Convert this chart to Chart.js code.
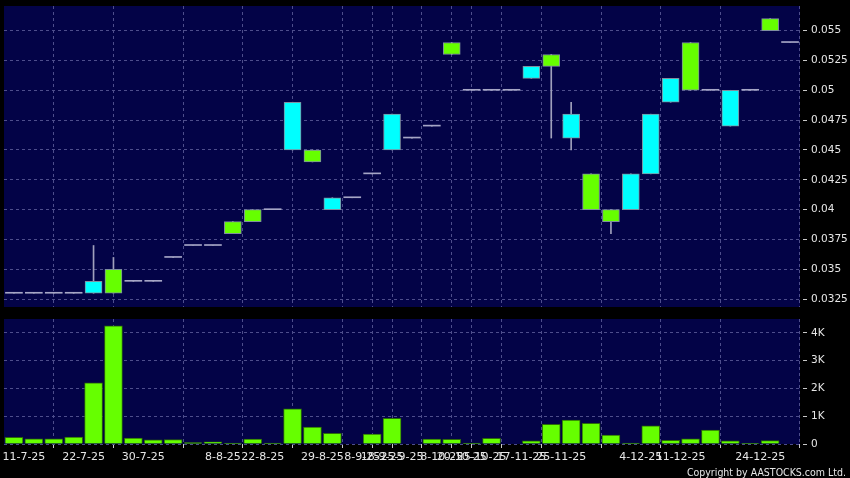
<!DOCTYPE html>
<html><head><meta charset="utf-8">
<script src="https://cdn.jsdelivr.net/npm/chart.js@4/dist/chart.umd.min.js"></script>
<style>
html,body{margin:0;padding:0;background:#000;width:850px;height:478px;overflow:hidden;}
#wrap{position:relative;width:850px;height:478px;}
canvas{position:absolute;left:0;}
#c1{top:0}
#c2{top:312px}
#copy{position:absolute;right:4px;top:466px;line-height:12px;color:#e6e6e6;font-size:10.5px;font-family:"DejaVu Sans Condensed","DejaVu Sans",sans-serif;white-space:nowrap;}
</style></head><body>
<div id="wrap">
<canvas id="c1" width="850" height="312"></canvas>
<canvas id="c2" width="850" height="166"></canvas>
<div id="copy">Copyright by AASTOCKS.com Ltd.</div>
</div>
<script>
// ---- data ----
const dates = ["10-7-25","11-7-25","15-7-25","18-7-25","22-7-25","23-7-25","25-7-25","30-7-25","31-7-25","4-8-25",
  "6-8-25","8-8-25","15-8-25","22-8-25","26-8-25","27-8-25","29-8-25","3-9-25","8-9-25","18-9-25",
  "25-9-25","29-9-25","8-10-25","20-10-25","25-10-25","3-11-25","17-11-25","20-11-25","25-11-25","26-11-25",
  "27-11-25","28-11-25","4-12-25","8-12-25","11-12-25","12-12-25","16-12-25","19-12-25","24-12-25","30-12-25"];
const openP  = [0.033,0.033,0.033,0.033,0.033,0.035,0.034,0.034,0.036,0.037,
  0.037,0.039,0.040,0.040,0.045,0.045,0.040,0.041,0.043,0.045,
  0.046,0.047,0.054,0.050,0.050,0.050,0.051,0.053,0.046,0.043,
  0.040,0.040,0.043,0.049,0.054,0.050,0.047,0.050,0.056,0.054];
const highP  = [0.033,0.033,0.033,0.033,0.037,0.036,0.034,0.034,0.036,0.037,
  0.037,0.039,0.040,0.040,0.049,0.045,0.041,0.041,0.043,0.048,
  0.046,0.047,0.054,0.050,0.050,0.050,0.052,0.053,0.049,0.043,
  0.040,0.043,0.048,0.051,0.054,0.050,0.050,0.050,0.056,0.054];
const lowP   = [0.033,0.033,0.033,0.033,0.033,0.033,0.034,0.034,0.036,0.037,
  0.037,0.038,0.039,0.040,0.045,0.044,0.040,0.041,0.043,0.045,
  0.046,0.047,0.053,0.050,0.050,0.050,0.051,0.046,0.045,0.040,
  0.038,0.040,0.043,0.049,0.050,0.050,0.047,0.050,0.055,0.054];
const closeP = [0.033,0.033,0.033,0.033,0.034,0.033,0.034,0.034,0.036,0.037,
  0.037,0.038,0.039,0.040,0.049,0.044,0.041,0.041,0.043,0.048,
  0.046,0.047,0.053,0.050,0.050,0.050,0.052,0.052,0.048,0.040,
  0.039,0.043,0.048,0.051,0.050,0.050,0.050,0.050,0.055,0.054];
const volume = [240,190,190,250,2200,4250,210,150,160,50,
  80,30,180,30,1270,610,380,0,360,920,
  0,180,170,30,200,0,110,710,860,740,
  320,30,650,130,190,500,110,10,120,0];
const labelSlots = [1,4,7,11,13,16,18,19,20,22,23,24,26,28,32,34,38];
const priceTicks = [0.0325,0.035,0.0375,0.04,0.0425,0.045,0.0475,0.05,0.0525,0.055];
const volumeTicks = [0,1000,2000,3000,4000];
const volumeTickLabels = ["0","1K","2K","3K","4K"];

// ---- styling ----
const N = dates.length;
const gridColor = '#4e4e8c';
const textColor = '#e6e6e6';
const tickColor = '#c8c8c8';
const upColor = '#00ffff', downColor = '#66ff00', flatColor = '#a6a6c6';
const isFlat = i => closeP[i] === openP[i];
const bodyColor = i => closeP[i] > openP[i] ? upColor : (closeP[i] < openP[i] ? downColor : flatColor);

const bgPlugin = {id:'bg', beforeDraw(chart){
  const {ctx, chartArea:a} = chart;
  ctx.save(); ctx.fillStyle = '#030347';
  ctx.fillRect(a.left, a.top, a.right - a.left, a.bottom - a.top); ctx.restore();
}};

function xScale(showLabels){
  return {
    type:'linear', min:0, max:N, offset:false,
    afterBuildTicks: s => { s.ticks = labelSlots.map(v => ({value:v})); },
    ticks:{display:showLabels, autoSkip:false, maxRotation:0, minRotation:0, color:textColor,
      font:{family:'DejaVu Sans', size:11}, padding:3,
      callback:(v,i) => dates[labelSlots[i]]},
    grid:{color:gridColor, lineWidth:1, drawTicks:showLabels, tickLength:4, tickColor:tickColor, tickBorderDash:[]},
    border:{display:false, dash:[3,3]},
    afterFit: s => { s.paddingLeft = 0; s.paddingRight = 0; s.height = showLabels ? 34 : 0; }
  };
}
function yScale(min, max, ticks, labelFn){
  return {
    position:'right', min:min, max:max,
    afterBuildTicks: s => { s.ticks = ticks.map(v => ({value:v})); },
    ticks:{color:textColor, font:{family:'DejaVu Sans', size:10.5}, padding:4, callback:labelFn},
    grid:{color:gridColor, lineWidth:1, tickLength:7, tickColor:tickColor, tickBorderDash:[0,3,4,20]},
    border:{display:false, dash:[3,3]},
    afterFit: s => { s.width = 50; s.paddingTop = 0; s.paddingBottom = 0; }
  };
}
const common = {responsive:false, animation:false, plugins:{legend:{display:false}, tooltip:{enabled:false}}};

new Chart(document.getElementById('c1'), {
  type:'bar',
  data:{datasets:[
    {label:'body', data: dates.map((d,i) => ({x:i+0.5, y:[openP[i], closeP[i]]})),
      backgroundColor: c => bodyColor(c.dataIndex),
      borderColor: '#7f8f9f',
      borderWidth: c => isFlat(c.dataIndex) ? 0 : 1,
      borderSkipped:false, barThickness:17, minBarLength:1, grouped:false},
    {label:'wick', data: dates.map((d,i) => ({x:i+0.5, y:[lowP[i], highP[i]]})),
      backgroundColor:'#a0a0bc', borderWidth:0, barThickness:1, grouped:false}
  ]},
  options:Object.assign({}, common, {
    layout:{padding:{left:4, top:6, right:0, bottom:5}},
    scales:{x:xScale(false), y:yScale(0.03185, 0.05706, priceTicks, v => String(v))}
  }),
  plugins:[bgPlugin]
});

new Chart(document.getElementById('c2'), {
  type:'bar',
  data:{datasets:[
    {label:'volume', data: dates.map((d,i) => ({x:i+0.5, y:volume[i]})),
      backgroundColor:'#66ff00', borderColor:'#2c6a08', borderWidth:1, barThickness:18}
  ]},
  options:Object.assign({}, common, {
    layout:{padding:{left:4, top:7, right:0, bottom:0}},
    scales:{x:xScale(true), y:yScale(0, 4500, volumeTicks, (v,i) => volumeTickLabels[i])}
  }),
  plugins:[bgPlugin]
});
</script>
</body></html>
